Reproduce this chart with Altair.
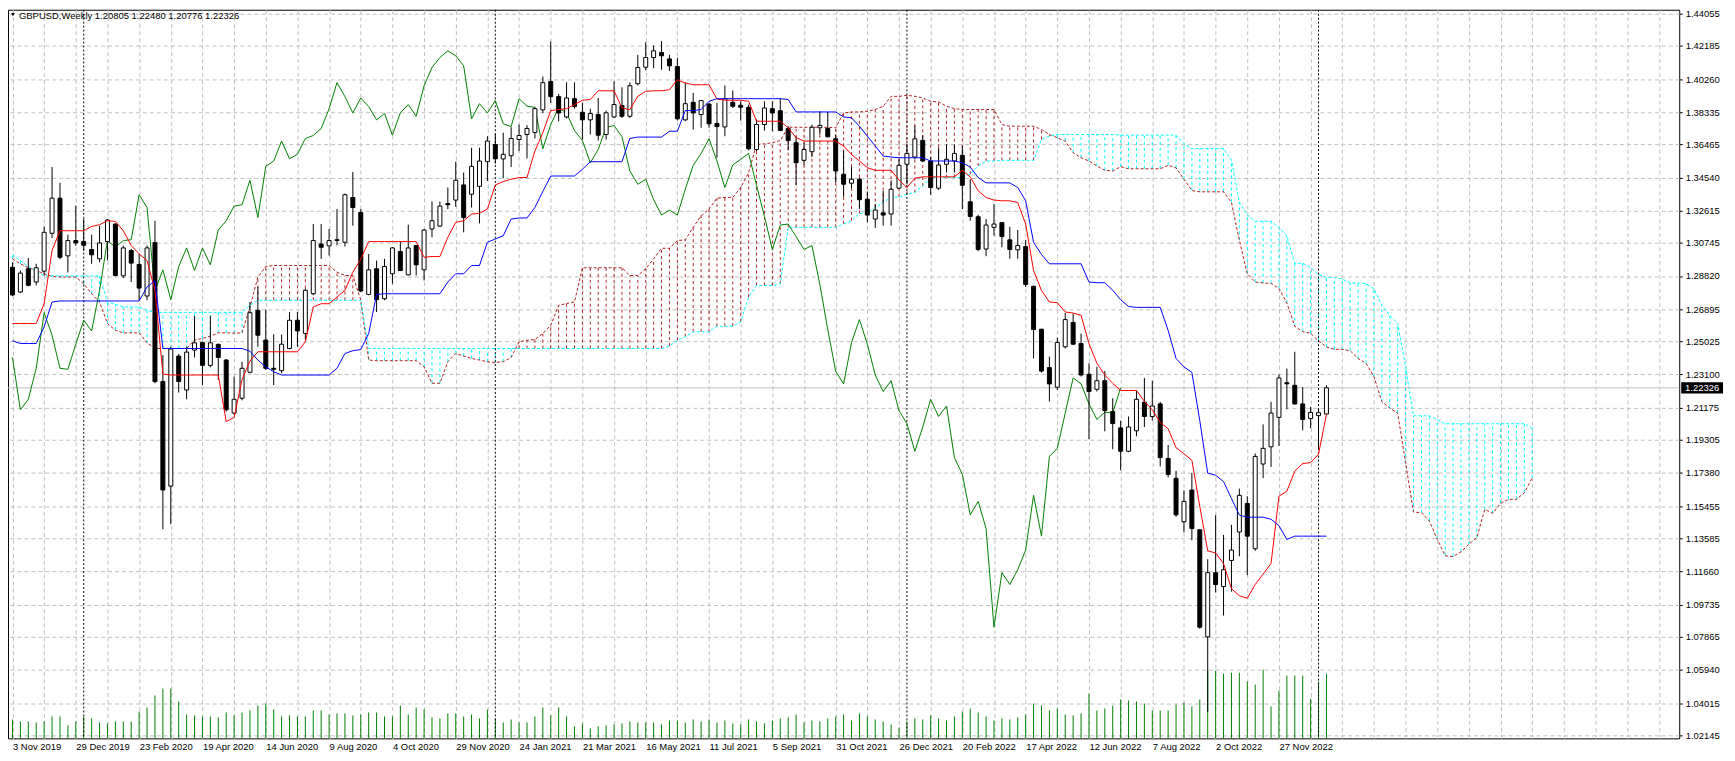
import json
import altair as alt
import pandas as pd

# ---------------- data ----------------
title_text = "GBPUSD,Weekly  1.20805 1.22480 1.20776 1.22326"

date_labels = ["3 Nov 2019", "29 Dec 2019", "23 Feb 2020", "19 Apr 2020", "14 Jun 2020",
               "9 Aug 2020", "4 Oct 2020", "29 Nov 2020", "24 Jan 2021", "21 Mar 2021",
               "16 May 2021", "11 Jul 2021", "5 Sep 2021", "31 Oct 2021", "26 Dec 2021",
               "20 Feb 2022", "17 Apr 2022", "12 Jun 2022", "7 Aug 2022", "2 Oct 2022",
               "27 Nov 2022"]

price_labels = [1.44055, 1.42185, 1.40260, 1.38335, 1.36465, 1.34540, 1.32615, 1.30745,
                1.28820, 1.26895, 1.25025, 1.23100, 1.21175, 1.19305, 1.17380, 1.15455,
                1.13585, 1.11660, 1.09735, 1.07865, 1.05940, 1.04015, 1.02145]

opens = [1.2933,1.2789,1.2924,1.2847,1.2910,1.3130,1.3334,1.2999,1.3088,1.3082,
         1.3036,1.2982,1.3082,1.3184,1.2883,1.3030,1.2949,1.2766,1.3076,1.2269,
         1.1662,1.2417,1.2220,1.2452,1.2496,1.2363,1.2485,1.2394,1.2086,1.2172,
         1.2323,1.2683,1.2510,1.2346,1.2332,1.2461,1.2625,1.2548,1.2779,1.3068,
         1.3057,1.3088,1.3078,1.3338,1.3251,1.2775,1.2924,1.2750,1.2895,1.3024,
         1.2889,1.3059,1.2918,1.3155,1.3172,1.3303,1.3323,1.3411,1.3357,1.3403,
         1.3546,1.3646,1.3562,1.3581,1.3675,1.3704,1.3716,1.3847,1.4012,1.3924,
         1.3806,1.3912,1.3833,1.3789,1.3820,1.3704,1.3806,1.3872,1.3810,1.3999,
         1.4095,1.4151,1.4180,1.4143,1.4099,1.3789,1.3891,1.3820,1.3881,1.3768,
         1.3748,1.3891,1.3874,1.3862,1.3617,1.3762,1.3854,1.3842,1.3739,1.3656,
         1.3554,1.3604,1.3743,1.3739,1.3679,1.3473,1.3421,1.3444,1.3328,1.3213,
         1.3249,1.3242,1.3392,1.3531,1.3573,1.3670,1.3550,1.3392,1.3531,1.3550,
         1.3583,1.3313,1.3226,1.3039,1.3165,1.3192,1.3092,1.3034,1.3053,1.2822,
         1.2573,1.2350,1.2236,1.2471,1.2612,1.2490,1.2311,1.2224,1.2274,1.2095,
         1.2000,1.1864,1.1983,1.2149,1.2066,1.2139,1.1822,1.1707,1.1454,1.1639,
         1.1408,1.0786,1.1159,1.1078,1.1230,1.1395,1.1561,1.1298,1.1790,1.1890,
         1.2061,1.2262,1.2247,1.2139,1.2054,1.2071,1.20805]

highs = [1.2960,1.2914,1.2987,1.2953,1.3169,1.3515,1.3423,1.3122,1.3290,1.3213,
         1.3122,1.3174,1.3213,1.3188,1.3059,1.3040,1.3010,1.3059,1.3203,1.2423,
         1.2471,1.2429,1.2471,1.2650,1.2500,1.2650,1.2490,1.2400,1.2298,1.2384,
         1.2731,1.2818,1.2687,1.2544,1.2542,1.2673,1.2673,1.2810,1.3184,1.3184,
         1.3155,1.3271,1.3361,1.3486,1.3271,1.3010,1.2972,1.2982,1.3050,1.3084,
         1.3180,1.3063,1.3155,1.3315,1.3315,1.3396,1.3546,1.3483,1.3627,1.3627,
         1.3694,1.3708,1.3714,1.3746,1.3762,1.3758,1.3862,1.4041,1.4244,1.3939,
         1.4007,1.4007,1.3887,1.3854,1.3916,1.3843,1.4012,1.3978,1.4007,1.4167,
         1.4240,1.4221,1.4248,1.4167,1.4150,1.4007,1.3945,1.3905,1.3885,1.3887,
         1.3989,1.3960,1.3897,1.3877,1.3791,1.3897,1.3897,1.3912,1.3752,1.3694,
         1.3656,1.3762,1.3839,1.3835,1.3704,1.3608,1.3515,1.3454,1.3373,1.3300,
         1.3377,1.3438,1.3560,1.3646,1.3756,1.3700,1.3573,1.3627,1.3646,1.3646,
         1.3637,1.3444,1.3238,1.3213,1.3300,1.3195,1.3168,1.3149,1.3092,1.2826,
         1.2575,1.2413,1.2525,1.2668,1.2664,1.2548,1.2375,1.2355,1.2330,1.2172,
         1.2042,1.2066,1.2217,1.2290,1.2273,1.2151,1.1900,1.1751,1.1637,1.1737,
         1.1410,1.1237,1.1493,1.1378,1.1437,1.1647,1.1603,1.1851,1.2020,1.2151,
         1.2310,1.2344,1.2442,1.2237,1.2122,1.2110,1.22480]

lows = [1.2765,1.2783,1.2822,1.2828,1.2891,1.3103,1.2980,1.2903,1.3057,1.3030,
        1.2953,1.2962,1.2972,1.2880,1.2870,1.2847,1.2741,1.2741,1.2259,1.1411,
        1.1440,1.2205,1.2166,1.2409,1.2248,1.2351,1.2278,1.2095,1.2076,1.2160,
        1.2317,1.2471,1.2336,1.2249,1.2317,1.2456,1.2471,1.2510,1.2770,1.2982,
        1.3001,1.3060,1.3053,1.3174,1.2789,1.2770,1.2673,1.2741,1.2837,1.2910,
        1.2885,1.2885,1.2856,1.3107,1.3168,1.3271,1.3284,1.3136,1.3280,1.3188,
        1.3434,1.3535,1.3450,1.3515,1.3608,1.3565,1.3681,1.3829,1.3887,1.3781,
        1.3797,1.3854,1.3675,1.3704,1.3669,1.3675,1.3800,1.3800,1.3800,1.3989,
        1.4076,1.4089,1.4080,1.4074,1.3785,1.3781,1.3733,1.3743,1.3743,1.3569,
        1.3694,1.3858,1.3785,1.3612,1.3608,1.3727,1.3723,1.3723,1.3612,1.3411,
        1.3527,1.3573,1.3704,1.3689,1.3425,1.3342,1.3392,1.3271,1.3194,1.3161,
        1.3174,1.3174,1.3386,1.3415,1.3560,1.3546,1.3354,1.3382,1.3483,1.3483,
        1.3271,1.3203,1.3026,1.2997,1.3116,1.3049,1.2982,1.2982,1.2818,1.2403,
        1.2321,1.2153,1.2220,1.2461,1.2481,1.2298,1.1934,1.2211,1.1980,1.1876,
        1.1754,1.1859,1.1951,1.2005,1.2042,1.1776,1.1712,1.1483,1.1393,1.1347,
        1.0834,1.0350,1.1044,1.0910,1.1049,1.1254,1.1144,1.1286,1.1708,1.1773,
        1.1895,1.2108,1.2134,1.1986,1.1998,1.1871,1.20776]

closes = [1.2772,1.2899,1.2828,1.2930,1.3136,1.3334,1.2991,1.3088,1.3074,1.3061,
          1.3005,1.3074,1.3207,1.2885,1.3045,1.2957,1.2812,1.3045,1.2269,1.1639,
          1.2458,1.2269,1.2440,1.2494,1.2363,1.2494,1.2409,1.2105,1.2166,1.2346,
          1.2669,1.2538,1.2346,1.2340,1.2486,1.2625,1.2563,1.2799,1.3088,1.3049,
          1.3088,1.3093,1.3354,1.3280,1.2795,1.2918,1.2745,1.2937,1.3045,1.2914,
          1.3045,1.2947,1.3149,1.3203,1.3288,1.3296,1.3438,1.3222,1.3519,1.3550,
          1.3666,1.3563,1.3589,1.3681,1.3698,1.3739,1.3854,1.4005,1.3924,1.3829,
          1.3916,1.3866,1.3789,1.3826,1.3700,1.3830,1.3878,1.3810,1.3987,1.4093,
          1.4151,1.4190,1.4161,1.4103,1.3795,1.3883,1.3829,1.3901,1.3766,1.3750,
          1.3912,1.3868,1.3862,1.3621,1.3762,1.3858,1.3829,1.3727,1.3669,1.3540,
          1.3617,1.3746,1.3756,1.3691,1.3492,1.3415,1.3444,1.3325,1.3236,1.3265,
          1.3236,1.3386,1.3525,1.3594,1.3679,1.3550,1.3396,1.3527,1.3560,1.3594,
          1.3409,1.3228,1.3036,1.3178,1.3184,1.3111,1.3036,1.3059,1.2833,1.2571,
          1.2330,1.2255,1.2496,1.2629,1.2486,1.2307,1.2211,1.2274,1.2100,1.2025,
          1.1864,1.2005,1.2166,1.2066,1.2127,1.1827,1.1730,1.1495,1.1573,1.1415,
          1.0842,1.1159,1.1090,1.1176,1.1290,1.1608,1.1371,1.1834,1.1881,1.2086,
          1.2290,1.2256,1.2139,1.2049,1.2090,1.2088,1.22326]

tenkan = [1.2606,1.2606,1.2606,1.2606,1.2722,1.3030,1.3145,1.3145,1.3145,1.3145,
          1.3170,1.3180,1.3203,1.3199,1.3145,1.3059,1.3011,1.2972,1.2799,1.2313,
          1.2307,1.2307,1.2307,1.2307,1.2307,1.2307,1.2307,1.2037,1.2060,1.2280,
          1.2388,1.2442,1.2442,1.2442,1.2442,1.2442,1.2442,1.2500,1.2702,1.2721,
          1.2721,1.2760,1.2799,1.2904,1.2980,1.3082,1.3082,1.3082,1.3082,1.3082,
          1.3082,1.3082,1.2991,1.2995,1.2995,1.3107,1.3194,1.3203,1.3242,1.3246,
          1.3271,1.3411,1.3431,1.3444,1.3454,1.3454,1.3608,1.3714,1.3843,1.3849,
          1.3854,1.3878,1.3903,1.3907,1.3958,1.3958,1.3958,1.3858,1.3849,1.3926,
          1.3955,1.3958,1.3958,1.3964,1.4022,1.4003,1.3993,1.3993,1.3993,1.3910,
          1.3903,1.3903,1.3903,1.3897,1.3781,1.3781,1.3781,1.3781,1.3743,1.3685,
          1.3666,1.3666,1.3666,1.3666,1.3666,1.3637,1.3588,1.3550,1.3511,1.3496,
          1.3496,1.3496,1.3440,1.3396,1.3450,1.3458,1.3458,1.3458,1.3458,1.3458,
          1.3496,1.3458,1.3377,1.3338,1.3323,1.3319,1.3319,1.3309,1.3184,1.2914,
          1.2798,1.2731,1.2727,1.2673,1.2667,1.2654,1.2490,1.2375,1.2307,1.2259,
          1.2217,1.2217,1.2217,1.2154,1.2105,1.2032,1.1995,1.1885,1.1849,1.1812,
          1.1544,1.1286,1.1273,1.1212,1.1066,1.1025,1.1010,1.1090,1.1151,1.1212,
          1.1603,1.1632,1.1749,1.1793,1.1798,1.1847,1.2078]

kijun = [1.2506,1.2490,1.2490,1.2490,1.2587,1.2731,1.2737,1.2737,1.2737,1.2737,
         1.2737,1.2737,1.2737,1.2737,1.2737,1.2737,1.2737,1.2818,1.2856,1.2461,
         1.2461,1.2461,1.2461,1.2461,1.2461,1.2461,1.2461,1.2461,1.2461,1.2461,
         1.2445,1.2394,1.2355,1.2326,1.2307,1.2307,1.2307,1.2307,1.2307,1.2307,
         1.2307,1.2346,1.2432,1.2448,1.2455,1.2548,1.2775,1.2779,1.2779,1.2779,
         1.2779,1.2779,1.2779,1.2779,1.2779,1.2847,1.2895,1.2895,1.2943,1.2943,
         1.3078,1.3097,1.3116,1.3213,1.3219,1.3219,1.3280,1.3373,1.3463,1.3463,
         1.3463,1.3463,1.3502,1.3546,1.3546,1.3546,1.3546,1.3546,1.3681,1.3689,
         1.3689,1.3689,1.3689,1.3723,1.3723,1.3843,1.3843,1.3849,1.3897,1.3912,
         1.3912,1.3912,1.3912,1.3912,1.3912,1.3912,1.3912,1.3912,1.3907,1.3835,
         1.3835,1.3835,1.3835,1.3835,1.3835,1.3806,1.3801,1.3752,1.3694,1.3637,
         1.3579,1.3573,1.3569,1.3569,1.3569,1.3569,1.3550,1.3550,1.3550,1.3550,
         1.3540,1.3515,1.3454,1.3423,1.3423,1.3423,1.3423,1.3396,1.3319,1.3078,
         1.3007,1.2953,1.2953,1.2953,1.2953,1.2953,1.2847,1.2843,1.2843,1.2799,
         1.2744,1.2705,1.2700,1.2700,1.2700,1.2700,1.2566,1.2403,1.2354,1.2322,
         1.2042,1.1737,1.1725,1.1688,1.1590,1.1493,1.1481,1.1481,1.1481,1.1469,
         1.1432,1.1352,1.1371,1.1371,1.1371,1.1371,1.1371]

senkou_a = [1.2982,1.2953,1.2930,1.2914,1.2895,1.2880,1.2876,1.2876,1.2876,1.2837,
            1.2779,1.2731,1.2606,1.2567,1.2552,1.2552,1.2552,1.2494,1.2461,1.2461,
            1.2461,1.2461,1.2461,1.2510,1.2519,1.2533,1.2552,1.2552,1.2550,1.2552,
            1.2702,1.2876,1.2937,1.2943,1.2943,1.2943,1.2943,1.2943,1.2943,1.2943,
            1.2943,1.2904,1.2885,1.2885,1.2741,1.2394,1.2390,1.2390,1.2390,1.2390,
            1.2390,1.2390,1.2355,1.2259,1.2259,1.2384,1.2432,1.2417,1.2403,1.2394,
            1.2384,1.2380,1.2384,1.2409,1.2500,1.2509,1.2513,1.2548,1.2596,1.2712,
            1.2722,1.2731,1.2930,1.2930,1.2930,1.2930,1.2930,1.2930,1.2885,1.2885,
            1.2924,1.2982,1.3043,1.3043,1.3088,1.3092,1.3165,1.3232,1.3271,1.3334,
            1.3338,1.3338,1.3396,1.3483,1.3646,1.3650,1.3656,1.3669,1.3746,1.3746,
            1.3746,1.3746,1.3746,1.3746,1.3743,1.3829,1.3835,1.3835,1.3839,1.3849,
            1.3868,1.3926,1.3925,1.3932,1.3926,1.3916,1.3897,1.3893,1.3868,1.3854,
            1.3849,1.3849,1.3849,1.3849,1.3849,1.3762,1.3752,1.3752,1.3752,1.3752,
            1.3733,1.3704,1.3685,1.3666,1.3598,1.3569,1.3550,1.3521,1.3496,1.3492,
            1.3517,1.3505,1.3505,1.3505,1.3505,1.3505,1.3525,1.3510,1.3444,1.3378,
            1.3371,1.3371,1.3371,1.3371,1.3310,1.3090,1.2895,1.2847,1.2842,1.2839,
            1.2810,1.2725,1.2590,1.2559,1.2549,1.2505,1.2470,1.2456,1.2456,1.2448,
            1.2403,1.2375,1.2298,1.2153,1.2114,1.2086,1.1797,1.1511,1.1507,1.1459,
            1.1353,1.1257,1.1253,1.1280,1.1324,1.1363,1.1527,1.1504,1.1561,1.1585,
            1.1585,1.1623,1.1710]

senkou_b = [1.3007,1.2972,1.2937,1.2910,1.2883,1.2883,1.2883,1.2883,1.2883,1.2883,
            1.2883,1.2883,1.2731,1.2718,1.2702,1.2702,1.2702,1.2683,1.2671,1.2671,
            1.2671,1.2671,1.2671,1.2671,1.2671,1.2671,1.2671,1.2671,1.2671,1.2671,
            1.2712,1.2741,1.2741,1.2741,1.2741,1.2741,1.2741,1.2741,1.2741,1.2741,
            1.2741,1.2741,1.2741,1.2741,1.2741,1.2461,1.2461,1.2461,1.2461,1.2461,
            1.2461,1.2461,1.2461,1.2461,1.2461,1.2461,1.2461,1.2461,1.2461,1.2461,
            1.2461,1.2461,1.2461,1.2461,1.2461,1.2461,1.2461,1.2461,1.2461,1.2461,
            1.2461,1.2461,1.2461,1.2461,1.2461,1.2461,1.2461,1.2461,1.2461,1.2461,
            1.2461,1.2461,1.2461,1.2475,1.2509,1.2529,1.2558,1.2558,1.2558,1.2590,
            1.2590,1.2590,1.2615,1.2760,1.2827,1.2827,1.2827,1.2837,1.3165,1.3165,
            1.3165,1.3165,1.3165,1.3165,1.3165,1.3184,1.3203,1.3246,1.3246,1.3280,
            1.3309,1.3340,1.3340,1.3357,1.3367,1.3405,1.3454,1.3454,1.3454,1.3454,
            1.3454,1.3473,1.3521,1.3550,1.3550,1.3554,1.3554,1.3554,1.3554,1.3554,
            1.3675,1.3694,1.3704,1.3704,1.3704,1.3704,1.3704,1.3704,1.3704,1.3704,
            1.3700,1.3700,1.3700,1.3700,1.3700,1.3700,1.3700,1.3700,1.3651,1.3622,
            1.3622,1.3622,1.3622,1.3622,1.3554,1.3310,1.3237,1.3200,1.3200,1.3200,
            1.3164,1.3115,1.2956,1.2956,1.2932,1.2890,1.2874,1.2872,1.2865,1.2841,
            1.2841,1.2838,1.2808,1.2712,1.2654,1.2606,1.2355,1.2070,1.2070,1.2070,
            1.2047,1.2024,1.2024,1.2024,1.2024,1.2024,1.2024,1.2024,1.2024,1.2024,
            1.2024,1.2024,1.1999]

# tick volume, thousands
volumes = [76,68,68,64,68,88,88,52,68,88,
           80,64,60,68,68,68,108,124,172,200,
           200,148,96,92,88,88,84,104,92,104,
           112,132,140,116,88,92,88,88,112,112,
           96,100,100,92,96,104,104,88,88,132,
           96,124,116,84,80,100,100,88,96,80,
           116,80,64,76,64,64,88,124,92,124,
           88,48,60,40,48,52,56,60,68,64,
           64,64,56,72,72,64,76,68,76,64,
           72,60,56,76,68,60,72,80,84,96,
           64,72,68,80,88,96,72,100,88,76,
           68,56,44,68,80,76,92,80,72,88,
           108,120,104,88,72,80,76,84,96,140,
           132,112,120,96,92,100,180,112,120,132,
           156,152,148,140,112,112,112,136,144,128,
           156,272,272,260,264,264,228,216,276,128,
           192,252,252,252,160,228,260]

year_starts = [9, 61, 113, 165]   # bars where a new year begins (period separators)
CHIKOU_SHIFT = 26

# ---------------- styling ----------------
FONT = "Liberation Sans"
FS = 9.5
GRID = "#C0C0C0"
RED_CLOUD = "#B22222"
CYAN_CLOUD = "#00FFFF"
W, H = 1679, 732
X_DOMAIN = [0.0625, 209.94]
Y_DOMAIN = [1.019654, 1.442863]
VOL_DOMAIN = [0, 2928]
TAG_SHAPE = "M-1,-0.27H1V0.27H-1Z"

# ---------------- tables ----------------
n = len(opens)
candles = pd.DataFrame({"bar": list(range(n)), "open": opens, "high": highs,
                        "low": lows, "close": closes})
ind = pd.DataFrame({"bar": list(range(n)), "tenkan": tenkan, "kijun": kijun})
m = len(senkou_a)
cloud = pd.DataFrame({"bar": list(range(m)), "a": senkou_a, "b": senkou_b})
cloud["lo"] = cloud[["a", "b"]].min(axis=1)
cloud["hi"] = cloud[["a", "b"]].max(axis=1)
cloud["upper"] = ["A" if a > b else "B" for a, b in zip(senkou_a, senkou_b)]
hatch = cloud[cloud["hi"] > cloud["lo"]]
chikou = pd.DataFrame({"bar": [i - CHIKOU_SHIFT for i in range(CHIKOU_SHIFT, n)],
                       "value": closes[CHIKOU_SHIFT:]})
vol = pd.DataFrame({"bar": list(range(n)), "vol": volumes, "base": [0] * n})
seps = pd.DataFrame({"bar": year_starts})
last = pd.DataFrame({"price": [closes[-1]], "label": [f"{closes[-1]:.5f}"]})
title_df = pd.DataFrame({"t": [title_text]})

# ---------------- scales / axes ----------------
xs = alt.Scale(domain=X_DOMAIN, nice=False, zero=False)
ys = alt.Scale(domain=Y_DOMAIN, nice=False, zero=False)

label_expr = ("datum.value % 8 == 0 && datum.value / 8 < " + str(len(date_labels)) +
              " ? " + json.dumps(date_labels) + "[datum.value / 8] : ''")

x_axis = alt.Axis(values=list(range(0, 209, 4)), labelExpr=label_expr, grid=True,
                  gridColor=GRID, gridDash=[4, 3], gridWidth=1, ticks=False, domain=False,
                  labelAlign="left", labelBaseline="top", labelPadding=3, labelFont=FONT,
                  labelFontSize=FS, labelColor="black", labelOverlap=False,
                  labelFlush=False, labelBound=False, title=None)
y_axis = alt.Axis(orient="right", values=price_labels, format=".5f", grid=True,
                  gridColor=GRID, gridDash=[4, 3], gridWidth=1, tickSize=3,
                  tickColor="black", domain=False, labelPadding=3, labelFont=FONT,
                  labelFontSize=FS, labelColor="black", labelOverlap=False,
                  labelFlush=False, title=None)


def X():
    return alt.X("bar:Q", scale=xs, axis=x_axis, title=None)


def Y(field):
    return alt.Y(f"{field}:Q", scale=ys, axis=y_axis, title=None)


# ---------------- layers ----------------
vol_l = alt.Chart(vol).mark_rule(color="#008000", strokeWidth=1, clip=True).encode(
    x=X(),
    y=alt.Y("vol:Q", scale=alt.Scale(domain=VOL_DOMAIN, nice=False), axis=None),
    y2="base:Q")

hatch_l = alt.Chart(hatch).mark_rule(strokeWidth=1, strokeDash=[3, 3], clip=True).encode(
    x=X(), y=Y("lo"), y2="hi:Q",
    color=alt.Color("upper:N", scale=alt.Scale(domain=["A", "B"],
                                               range=[RED_CLOUD, CYAN_CLOUD]), legend=None))
sa_l = alt.Chart(cloud).mark_line(color=RED_CLOUD, strokeWidth=1, strokeDash=[3, 2],
                                  clip=True).encode(x=X(), y=Y("a"))
sb_l = alt.Chart(cloud).mark_line(color=CYAN_CLOUD, strokeWidth=1, strokeDash=[3, 2],
                                  clip=True).encode(x=X(), y=Y("b"))
price_rule = alt.Chart(last).mark_rule(color=GRID, strokeWidth=1).encode(y=Y("price"))
seps_l = alt.Chart(seps).mark_rule(color="black", strokeWidth=1, strokeDash=[2, 2]).encode(x=X())
chikou_l = alt.Chart(chikou).mark_line(color="#008000", strokeWidth=1, clip=True).encode(
    x=X(), y=Y("value"))
wick_l = alt.Chart(candles).mark_rule(color="black", strokeWidth=1, clip=True).encode(
    x=X(), y=Y("low"), y2="high:Q")
body_l = alt.Chart(candles).mark_bar(size=4, stroke="black", strokeWidth=1, clip=True).encode(
    x=X(), y=Y("open"), y2="close:Q",
    fill=alt.condition("datum.close >= datum.open", alt.value("white"), alt.value("black")))
tenkan_l = alt.Chart(ind).mark_line(color="#FF0000", strokeWidth=1, clip=True).encode(
    x=X(), y=Y("tenkan"))
kijun_l = alt.Chart(ind).mark_line(color="#0000FF", strokeWidth=1, clip=True).encode(
    x=X(), y=Y("kijun"))

title_l = alt.Chart(title_df).mark_text(align="left", baseline="middle", font=FONT,
                                        fontSize=FS, color="black").encode(
    x=alt.value(11), y=alt.value(6), text="t:N")
tri_l = alt.Chart(title_df).mark_point(shape="triangle-down", filled=True, color="black",
                                       size=14, opacity=1, strokeWidth=0).encode(
    x=alt.value(5), y=alt.value(5))
tag_l = alt.Chart(last).mark_point(shape=TAG_SHAPE, filled=True, color="black", size=1764,
                                   opacity=1, strokeWidth=0).encode(
    x=alt.value(W + 23), y=Y("price"))
tag_text_l = alt.Chart(last).mark_text(color="white", font=FONT, fontSize=FS,
                                       align="center", baseline="middle").encode(
    x=alt.value(W + 23), y=Y("price"), text="label:N")

price_layers = alt.layer(hatch_l, sa_l, sb_l, price_rule, seps_l, chikou_l, wick_l, body_l,
                         tenkan_l, kijun_l, title_l, tri_l, tag_l, tag_text_l)

chart = alt.layer(vol_l, price_layers).resolve_scale(y="independent").properties(
    width=W, height=H,
    padding={"left": 0, "top": 0, "right": 48, "bottom": 20},
    autosize=alt.AutoSizeParams(type="none"),
    background="white",
).configure_view(stroke="black", strokeWidth=1)

chart.save("out.html", embed_options={"renderer": "svg", "actions": False})
